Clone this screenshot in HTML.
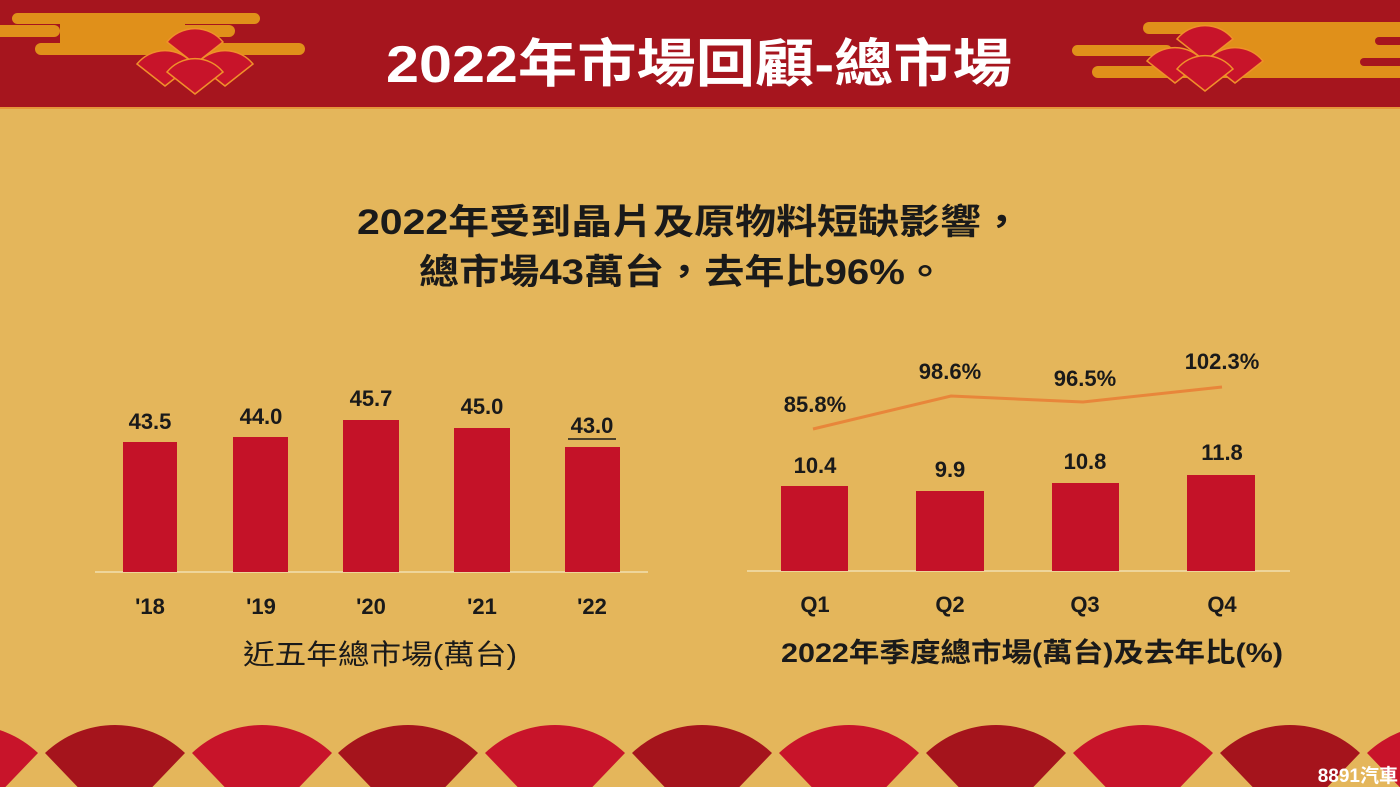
<!DOCTYPE html>
<html><head><meta charset="utf-8"><style>
body{margin:0;width:1400px;height:787px;overflow:hidden;background:#e4b65b;font-family:"Liberation Sans","Noto Sans CJK TC",sans-serif;}
svg{position:absolute;left:0;top:0}
text{font-family:"Liberation Sans","Noto Sans CJK TC",sans-serif;}
</style></head><body>
<svg width="1400" height="787" viewBox="0 0 1400 787">
<defs>
<g id="fan4">
 <path d="M0,30 L-28,8 A36,36 0 0 1 28,8 Z" fill="#c8142a" stroke="#f0902a" stroke-width="1.5"/>
 <path d="M-30,52 L-58,30 A36,36 0 0 1 -2,30 Z" fill="#c8142a" stroke="#f0902a" stroke-width="1.5"/>
 <path d="M30,52 L2,30 A36,36 0 0 1 58,30 Z" fill="#c8142a" stroke="#f0902a" stroke-width="1.5"/>
 <path d="M0,60 L-28,38 A36,36 0 0 1 28,38 Z" fill="#c8142a" stroke="#f0902a" stroke-width="1.5"/>
</g>
</defs>
<rect x="0" y="0" width="1400" height="107" fill="#a6151e"/>
<rect x="0" y="107" width="1400" height="2" fill="#e6963a"/>
<g fill="#e0901a">
<rect x="12" y="13" width="248" height="11" rx="5.5"/>
<rect x="60" y="13" width="125" height="42"/>
<rect x="-10" y="25" width="70" height="12" rx="6"/>
<rect x="175" y="25" width="60" height="12" rx="6"/>
<rect x="35" y="43" width="270" height="12" rx="6"/>
</g>
<g fill="#e0901a">
<rect x="1143" y="22" width="270" height="12" rx="6"/>
<rect x="1200" y="22" width="200" height="56"/>
<rect x="1072" y="45" width="100" height="11" rx="5.5"/>
<rect x="1092" y="66" width="120" height="12" rx="6"/>
</g>
<g fill="#a6151e">
<rect x="1375" y="37" width="40" height="8" rx="4"/>
<rect x="1360" y="58" width="50" height="8" rx="4"/>
</g>
<use href="#fan4" x="195" y="34"/>
<use href="#fan4" x="1205" y="31"/>
<text x="386" y="82" textLength="626" lengthAdjust="spacingAndGlyphs" font-size="52" font-weight="bold" fill="#fff">2022年市場回顧-總市場</text>
<text x="357" y="234" textLength="665" lengthAdjust="spacingAndGlyphs" font-size="35" font-weight="bold" fill="#1a1a1a">2022年受到晶片及原物料短缺影響，</text>
<text x="419" y="284" textLength="526" lengthAdjust="spacingAndGlyphs" font-size="35" font-weight="bold" fill="#1a1a1a">總市場43萬台，去年比96%。</text>
<line x1="95" y1="572" x2="648" y2="572" stroke="#f2dfb0" stroke-width="1.5"/>
<g fill="#c41228">
<rect x="123" y="442" width="54" height="130"/>
<rect x="233" y="437" width="55" height="135"/>
<rect x="343" y="420" width="56" height="152"/>
<rect x="454" y="428" width="56" height="144"/>
<rect x="565" y="447" width="55" height="125"/>
</g>
<g font-size="22" font-weight="bold" fill="#1a1a1a" text-anchor="middle">
<text x="150" y="429">43.5</text>
<text x="261" y="424">44.0</text>
<text x="371" y="406">45.7</text>
<text x="482" y="414">45.0</text>
<text x="592" y="433">43.0</text>
<text x="150" y="614">'18</text>
<text x="261" y="614">'19</text>
<text x="371" y="614">'20</text>
<text x="482" y="614">'21</text>
<text x="592" y="614">'22</text>
</g>
<line x1="568" y1="439" x2="616" y2="439" stroke="#1a1a1a" stroke-width="1.5"/>
<text x="243" y="664" textLength="274" lengthAdjust="spacingAndGlyphs" font-size="28" fill="#1a1a1a">近五年總市場(萬台)</text>
<line x1="747" y1="571" x2="1290" y2="571" stroke="#f2dfb0" stroke-width="1.5"/>
<g fill="#c41228">
<rect x="781" y="486" width="67" height="85"/>
<rect x="916" y="491" width="68" height="80"/>
<rect x="1052" y="483" width="67" height="88"/>
<rect x="1187" y="475" width="68" height="96"/>
</g>
<polyline points="813,429 951,396 1083,402 1222,387" fill="none" stroke="#e8863a" stroke-width="3"/>
<g font-size="22" font-weight="bold" fill="#1a1a1a" text-anchor="middle">
<text x="815" y="412">85.8%</text>
<text x="950" y="379">98.6%</text>
<text x="1085" y="386">96.5%</text>
<text x="1222" y="369">102.3%</text>
<text x="815" y="473">10.4</text>
<text x="950" y="477">9.9</text>
<text x="1085" y="469">10.8</text>
<text x="1222" y="460">11.8</text>
<text x="815" y="612">Q1</text>
<text x="950" y="612">Q2</text>
<text x="1085" y="612">Q3</text>
<text x="1222" y="612">Q4</text>
</g>
<text x="781" y="662" textLength="502" lengthAdjust="spacingAndGlyphs" font-size="27" font-weight="bold" fill="#1a1a1a">2022年季度總市場(萬台)及去年比(%)</text>
<g>
<path d="M-32,826 L-102,753 A101.5,101.5 0 0 1 38,753 Z" fill="#c8142a"/>
<path d="M115,826 L45,753 A101.5,101.5 0 0 1 185,753 Z" fill="#a5141c"/>
<path d="M262,826 L192,753 A101.5,101.5 0 0 1 332,753 Z" fill="#c8142a"/>
<path d="M408,826 L338,753 A101.5,101.5 0 0 1 478,753 Z" fill="#a5141c"/>
<path d="M555,826 L485,753 A101.5,101.5 0 0 1 625,753 Z" fill="#c8142a"/>
<path d="M702,826 L632,753 A101.5,101.5 0 0 1 772,753 Z" fill="#a5141c"/>
<path d="M849,826 L779,753 A101.5,101.5 0 0 1 919,753 Z" fill="#c8142a"/>
<path d="M996,826 L926,753 A101.5,101.5 0 0 1 1066,753 Z" fill="#a5141c"/>
<path d="M1143,826 L1073,753 A101.5,101.5 0 0 1 1213,753 Z" fill="#c8142a"/>
<path d="M1290,826 L1220,753 A101.5,101.5 0 0 1 1360,753 Z" fill="#a5141c"/>
<path d="M1437,826 L1367,753 A101.5,101.5 0 0 1 1507,753 Z" fill="#c8142a"/>
</g>
<text x="1398" y="782" text-anchor="end" font-size="19" font-weight="bold" fill="#fff">8891汽車</text>
</svg>
</body></html>
